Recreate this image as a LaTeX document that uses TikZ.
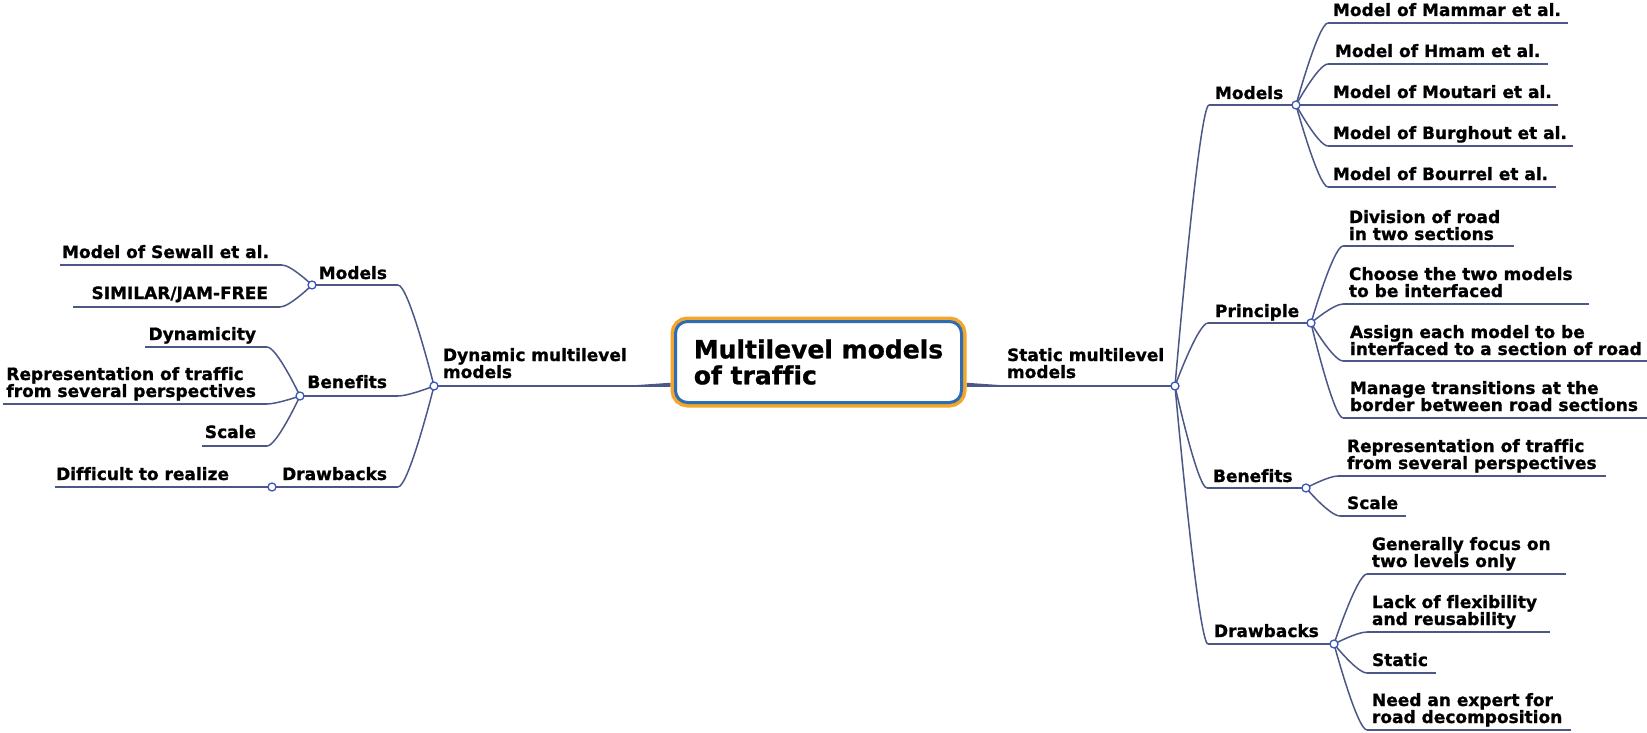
\documentclass[tikz,border=0pt]{standalone}
\usepackage{fontspec}
\setmainfont{DejaVu Sans}[Ligatures={NoCommon},BoldFeatures={FakeBold=1}]
\usetikzlibrary{calc}
\definecolor{edgec}{HTML}{4B5887}
\definecolor{dotc}{HTML}{3957B9}
\definecolor{boxblue}{HTML}{2E6DB4}
\definecolor{boxorange}{HTML}{F2A62A}
\newcommand\tl[2]{\vbox{\hbox{#1}\hbox{#2}}}
\pgfdeclarelayer{bg}
\pgfsetlayers{bg,main}
\newcommand\crv[2]{\draw[edge] let \p1=(#1), \p2=(#2) in (\p1) .. controls (\p1) and ({\x1+0.7*(\x2-\x1)},\y2) .. (\p2);}
\begin{document}
\begin{tikzpicture}[x=1pt,y=-1pt,
  lbl/.style={font=\bfseries\fontsize{17}{17}\selectfont, inner sep=0pt, outer sep=0pt},
  lblR/.style={lbl, anchor=base west},
  lblL/.style={lbl, anchor=base east},
  edge/.style={draw=edgec, line width=1.5pt},
  dot/.style={circle, draw=dotc, fill=white, line width=1.3pt, minimum size=8pt, inner sep=0pt},
  rootbox/.style={rectangle, rounded corners=12pt, draw=boxblue, line width=3pt, fill=white,
    preaction={draw=boxorange, line width=10pt}, minimum width=286pt, minimum height=81pt,
    outer sep=5pt, inner sep=0pt, font=\bfseries\fontsize{25}{26}\selectfont},
]
\useasboundingbox (0,0) rectangle (1647,733);

% root
\node[rootbox] (root) at (818.5,362) {\tl{Multilevel models}{of traffic}};
\coordinate (rootL) at ($(root.south west)!0.25!(root.north west)$);
\coordinate (rootR) at ($(root.south east)!0.25!(root.north east)$);

% ---------- left side ----------
\node[dot] (dyn) at (434,386) {};
\node[lblR] (dynT) at (443,378) {\tl{Dynamic multilevel}{models}};
\coordinate (dynTap) at (640,386);

\node[dot] (lmod) at (312,285) {}; \coordinate (lmodN) at (398,285);
\node[lblL] (lmodT) at (387,279) {Models};
\node[dot] (lben) at (300,396) {}; \coordinate (lbenN) at (398,396);
\node[lblL] (lbenT) at (387,388) {Benefits};
\node[dot] (ldra) at (272,487) {}; \coordinate (ldraN) at (398,487);
\node[lblL] (ldraT) at (387,480) {Drawbacks};

\coordinate (sewN) at (282,265); \coordinate (sewF) at (60,265);
\node[lblL] (sewT) at (269,258) {Model of Sewall et al.};
\coordinate (simN) at (280,307); \coordinate (simF) at (73,307);
\node[lblL] (simT) at (268,299) {SIMILAR/JAM-FREE};
\coordinate (dynaN) at (267,347); \coordinate (dynaF) at (145,347);
\node[lblL] (dynaT) at (256,340) {Dynamicity};
\coordinate (lrepN) at (267,404); \coordinate (lrepF) at (3,404);
\node[lblL] (lrepT) at (256,397) {\tl{Representation of traffic}{from several perspectives}};
\coordinate (lscaN) at (267,446); \coordinate (lscaF) at (202,446);
\node[lblL] (lscaT) at (256,438) {Scale};
\coordinate (difN) at (262,487); \coordinate (difF) at (55,487);
\node[lblL] (difT) at (229,480) {Difficult to realize};

% ---------- right side ----------
\node[dot] (sta) at (1175,386) {};
\node[lblR] (staT) at (1007,378) {\tl{Static multilevel}{models}};
\coordinate (staTap) at (997,386);

\node[dot] (rmod) at (1296,105) {}; \coordinate (rmodN) at (1209,105);
\node[lblR] (rmodT) at (1215,99) {Models};
\node[dot] (rpri) at (1311,323) {}; \coordinate (rpriN) at (1208,323);
\node[lblR] (rpriT) at (1215,317) {Principle};
\node[dot] (rben) at (1306,488) {}; \coordinate (rbenN) at (1207,488);
\node[lblR] (rbenT) at (1213,482) {Benefits};
\node[dot] (rdra) at (1334,644) {}; \coordinate (rdraN) at (1208,644);
\node[lblR] (rdraT) at (1214,637) {Drawbacks};

\coordinate (mamN) at (1328,23); \coordinate (mamF) at (1568,23);
\node[lblR] (mamT) at (1333,16) {Model of Mammar et al.};
\coordinate (hmaN) at (1328,64); \coordinate (hmaF) at (1548,64);
\node[lblR] (hmaT) at (1335,57) {Model of Hmam et al.};
\coordinate (mouN) at (1328,105); \coordinate (mouF) at (1558,105);
\node[lblR] (mouT) at (1333,98) {Model of Moutari et al.};
\coordinate (burN) at (1328,146); \coordinate (burF) at (1573,146);
\node[lblR] (burT) at (1333,139) {Model of Burghout et al.};
\coordinate (bouN) at (1328,187); \coordinate (bouF) at (1556,187);
\node[lblR] (bouT) at (1333,180) {Model of Bourrel et al.};

\coordinate (divN) at (1343,246); \coordinate (divF) at (1514,246);
\node[lblR] (divT) at (1349,240) {\tl{Division of road}{in two sections}};
\coordinate (choN) at (1343,304); \coordinate (choF) at (1589,304);
\node[lblR] (choT) at (1349,297) {\tl{Choose the two models}{to be interfaced}};
\coordinate (assN) at (1343,361); \coordinate (assF) at (1647,361);
\node[lblR] (assT) at (1350,355) {\tl{Assign each model to be}{interfaced to a section of road}};
\coordinate (manN) at (1343,418); \coordinate (manF) at (1647,418);
\node[lblR] (manT) at (1350,411) {\tl{Manage transitions at the}{border between road sections}};

\coordinate (rrepN) at (1338,476); \coordinate (rrepF) at (1606,476);
\node[lblR] (rrepT) at (1347,469) {\tl{Representation of traffic}{from several perspectives}};
\coordinate (rscaN) at (1340,516); \coordinate (rscaF) at (1406,516);
\node[lblR] (rscaT) at (1347,509) {Scale};

\coordinate (genN) at (1367,574); \coordinate (genF) at (1566,574);
\node[lblR] (genT) at (1372,567) {\tl{Generally focus on}{two levels only}};
\coordinate (lacN) at (1367,632); \coordinate (lacF) at (1550,632);
\node[lblR] (lacT) at (1372,625) {\tl{Lack of flexibility}{and reusability}};
\coordinate (stcN) at (1367,673); \coordinate (stcF) at (1436,673);
\node[lblR] (stcT) at (1372,666) {Static};
\coordinate (needN) at (1367,730); \coordinate (needF) at (1571,730);
\node[lblR] (needT) at (1372,723) {\tl{Need an expert for}{road decomposition}};

% ---------- connectors ----------
\begin{pgfonlayer}{bg}
% root tapers
\draw[edge] (dyn.center) -- (dynTap);
\fill[edgec] ($(dynTap)+(-6,-0.75)$) -- ($(rootL)+(0,-2)$) -- ($(rootL)+(0,2)$) -- ($(dynTap)+(-6,0.75)$) -- cycle;
\draw[edge] (sta.center) -- (staTap);
\fill[edgec] ($(staTap)+(6,-0.75)$) -- ($(rootR)+(0,-2)$) -- ($(rootR)+(0,2)$) -- ($(staTap)+(6,0.75)$) -- cycle;

% left level 2
\crv{dyn.center}{lmodN} \draw[edge] (lmodN) -- (lmod.center);
\crv{dyn.center}{lbenN} \draw[edge] (lbenN) -- (lben.center);
\crv{dyn.center}{ldraN} \draw[edge] (ldraN) -- (ldra.center);
% left leaves
\crv{lmod.center}{sewN} \draw[edge] (sewN) -- (sewF);
\crv{lmod.center}{simN} \draw[edge] (simN) -- (simF);
\crv{lben.center}{dynaN} \draw[edge] (dynaN) -- (dynaF);
\crv{lben.center}{lrepN} \draw[edge] (lrepN) -- (lrepF);
\crv{lben.center}{lscaN} \draw[edge] (lscaN) -- (lscaF);
\draw[edge] (ldra.center) -- (difF);

% right level 2
\crv{sta.center}{rmodN} \draw[edge] (rmodN) -- (rmod.center);
\crv{sta.center}{rpriN} \draw[edge] (rpriN) -- (rpri.center);
\crv{sta.center}{rbenN} \draw[edge] (rbenN) -- (rben.center);
\crv{sta.center}{rdraN} \draw[edge] (rdraN) -- (rdra.center);
% right leaves
\crv{rmod.center}{mamN} \draw[edge] (mamN) -- (mamF);
\crv{rmod.center}{hmaN} \draw[edge] (hmaN) -- (hmaF);
\draw[edge] (rmod.center) -- (mouF);
\crv{rmod.center}{burN} \draw[edge] (burN) -- (burF);
\crv{rmod.center}{bouN} \draw[edge] (bouN) -- (bouF);
\crv{rpri.center}{divN} \draw[edge] (divN) -- (divF);
\crv{rpri.center}{choN} \draw[edge] (choN) -- (choF);
\crv{rpri.center}{assN} \draw[edge] (assN) -- (assF);
\crv{rpri.center}{manN} \draw[edge] (manN) -- (manF);
\crv{rben.center}{rrepN} \draw[edge] (rrepN) -- (rrepF);
\crv{rben.center}{rscaN} \draw[edge] (rscaN) -- (rscaF);
\crv{rdra.center}{genN} \draw[edge] (genN) -- (genF);
\crv{rdra.center}{lacN} \draw[edge] (lacN) -- (lacF);
\crv{rdra.center}{stcN} \draw[edge] (stcN) -- (stcF);
\crv{rdra.center}{needN} \draw[edge] (needN) -- (needF);
\end{pgfonlayer}
\end{tikzpicture}
\end{document}
